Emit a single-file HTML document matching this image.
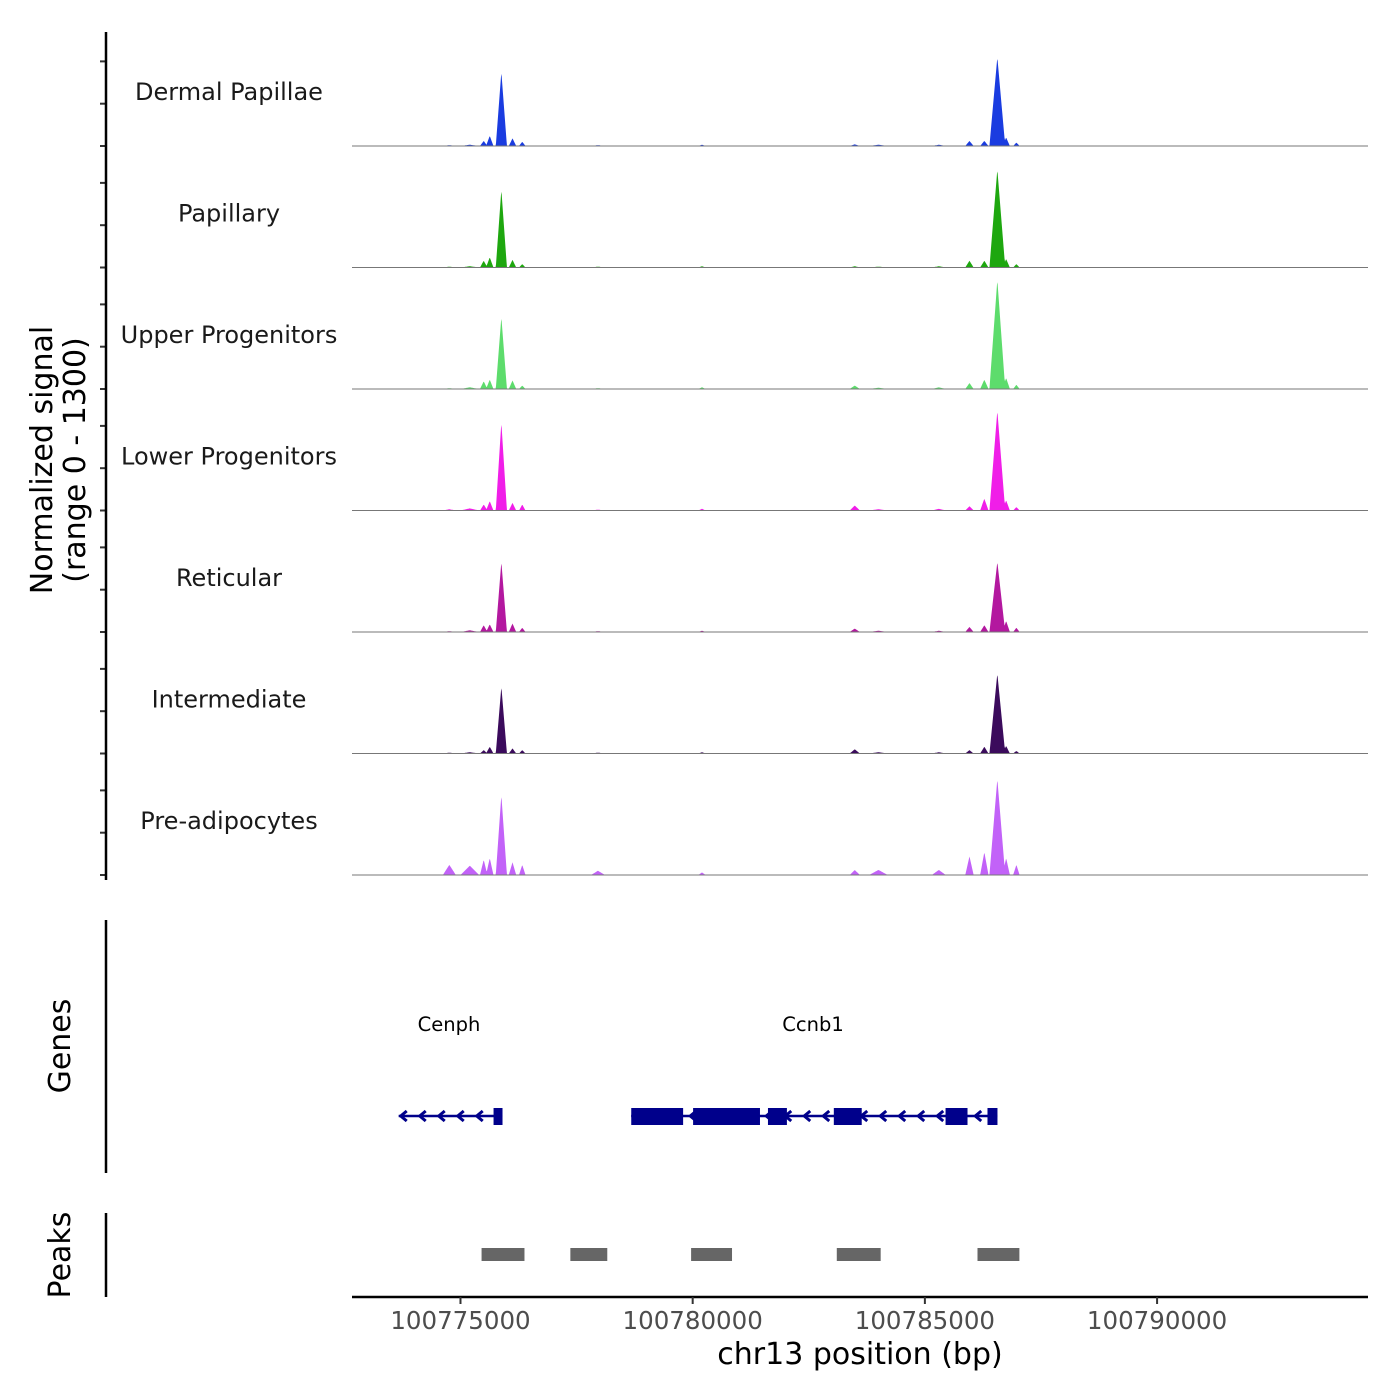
<!DOCTYPE html>
<html><head><meta charset="utf-8"><style>
html,body{margin:0;padding:0;background:#fff;}
svg{display:block;font-family:"DejaVu Sans","Liberation Sans",sans-serif;}
</style></head><body>
<svg id="chart" width="1400" height="1400" viewBox="0 0 1400 1400" xmlns="http://www.w3.org/2000/svg">
<g id="tracks"></g>
<g id="genes"></g>
<g id="peaks"></g>
<g id="axes"></g>
</svg>
<script>
const trackNames = ["Dermal Papillae","Papillary","Upper Progenitors","Lower Progenitors","Reticular","Intermediate","Pre-adipocytes"];
const trackColors = ["#1a3ce0","#1ea70f","#5ddc6c","#f01ee8","#b3189f","#3b0b5c","#c262f8"];
const bumpPositions = [100775880,100786560,100775500,100775630,100776120,100776330,100785960,100786280,100786750,100786970,100783490,100780200,100777960,100774760,100775200,100784000,100785300];
const bumpHalfWidths = [120,170,80,80,80,70,90,90,80,70,110,80,150,140,200,200,150];
const dpValues = [875,1050,60,120,90,50,60,60,100,40,20,15,10,10,15,15,15];
const papValues = [920,1160,80,120,90,40,80,80,100,40,15,15,10,10,15,10,15];
const upperValues = [850,1290,90,110,100,40,70,110,130,50,40,20,10,10,20,15,20];
const lowerValues = [1040,1180,70,110,90,70,50,140,120,40,60,20,10,15,25,15,20];
const reticValues = [830,830,80,90,100,50,60,80,130,50,40,15,10,10,20,15,15];
const interValues = [790,945,40,80,60,40,40,80,90,30,50,15,10,10,15,15,15];
const preValues = [945,1135,180,200,150,120,220,270,200,120,60,30,50,120,110,60,60];
const trackValues = [dpValues,papValues,upperValues,lowerValues,reticValues,interValues,preValues];
const xTicks = [100775000,100780000,100785000,100790000];
const cenphLine = [100773670,100775905];
const cenphExons = [[100775712,100775905]];
const ccnb1Line = [100778677,100786563];
const ccnb1Exons = [[100778677,100779794],[100780009,100781449],[100781621,100782029],[100783039,100783640],[100785445,100785918],[100786348,100786563]];
const peakStarts = [100775454,100777366,100779966,100783103,100786133];
const peakEnds = [100776378,100778161,100780847,100784048,100787035];
const yMax = 1300;

const NS="http://www.w3.org/2000/svg";
const X0=352,X1=1368,BP0=100772664,PXPERBP=0.04644;
const xs=bp=>X0+(bp-BP0)*PXPERBP;
const bpAt=x=>BP0+(x-X0)/PXPERBP;
function mk(tag,attrs,parent){const e=document.createElementNS(NS,tag);for(const k in attrs)e.setAttribute(k,attrs[k]);parent.appendChild(e);return e;}
const T=document.getElementById('tracks'),A=document.getElementById('axes'),G=document.getElementById('genes'),P=document.getElementById('peaks');
const panelH=121.5, firstBase=146, hPx=110;

trackNames.forEach((name,i)=>{
  const base=firstBase+i*panelH;
  const ys=v=>base-v/yMax*hPx;
  const vals=trackValues[i];
  let pts=[[X0,base]];
  for(let x=X0;x<=1322;x+=0.5){
    const bp=bpAt(x);let v=0;
    for(let j=0;j<bumpPositions.length;j++){const d=Math.abs(bp-bumpPositions[j])/bumpHalfWidths[j];if(d<1)v=Math.max(v,vals[j]*(1-d));}
    pts.push([x,ys(v)]);
  }
  pts.push([1322,base]);
  const poly=mk('polygon',{points:pts.map(p=>p[0].toFixed(1)+','+p[1].toFixed(1)).join(' '),fill:trackColors[i]},T);
  
  
  const bl=mk('line',{x1:X0,x2:X1,y1:base,y2:base,stroke:'#777','stroke-width':1},T);
  
  
  const lab=mk('text',{x:229,y:base-46,'text-anchor':'middle','font-size':24,fill:'#1a1a1a'},T);
  lab.textContent=name;
  
  
  [0,500,1000].forEach(t=>{
    const tk=mk('line',{x1:100,x2:106,y1:ys(t),y2:ys(t),stroke:'#333','stroke-width':2},A);
    
    
  });
});
[[32,880],[920,1173],[1213,1297]].forEach(s=>{
  const l=mk('line',{x1:106,x2:106,y1:s[0],y2:s[1],stroke:'#000','stroke-width':2.5},A);
  
  
});
const yt=mk('text',{transform:'translate(52,460) rotate(-90)','text-anchor':'middle','font-size':30,fill:'#000'},A);


yt.innerHTML='<tspan x="0" dy="0">Normalized signal</tspan><tspan x="0" dy="33">(range 0 - 1300)</tspan>';
const gt=mk('text',{transform:'translate(70,1046) rotate(-90)','text-anchor':'middle','font-size':30,fill:'#000'},A);
gt.textContent='Genes';


const pt=mk('text',{transform:'translate(70,1255) rotate(-90)','text-anchor':'middle','font-size':30,fill:'#000'},A);
pt.textContent='Peaks';


const xa=mk('line',{x1:X0,x2:X1,y1:1297,y2:1297,stroke:'#000','stroke-width':2.5},A);


xTicks.forEach(t=>{
  const tk=mk('line',{x1:xs(t),x2:xs(t),y1:1297,y2:1304,stroke:'#333','stroke-width':2},A);
  
  
  const tl=mk('text',{x:xs(t),y:1329,'text-anchor':'middle','font-size':24.5,fill:'#4d4d4d'},A);
  tl.textContent=String(t);
  
  
});
const xt=mk('text',{x:860,y:1364,'text-anchor':'middle','font-size':30,fill:'#000'},A);
xt.textContent='chr13 position (bp)';


const GY=1116,GC='#00008b';
function drawGene(name,line,exons,labelX){
  const g=mk('g',{},G);
  
  
  mk('line',{x1:xs(line[0]),x2:xs(line[1]),y1:GY,y2:GY,stroke:GC,'stroke-width':2.5},g);
  for(let x=xs(line[0])+2;x<xs(line[1])-8;x+=19){
    mk('polyline',{points:`${x+6},${GY-5} ${x},${GY} ${x+6},${GY+5}`,fill:'none',stroke:GC,'stroke-width':3},g);
  }
  exons.forEach(e=>mk('rect',{x:xs(e[0]),y:GY-8,width:xs(e[1])-xs(e[0]),height:17,fill:GC},g));
  const t=mk('text',{x:labelX,y:1031,'text-anchor':'middle','font-size':19.5,fill:'#000'},g);
  t.textContent=name;
  
  
}
drawGene('Cenph',cenphLine,cenphExons,449);
drawGene('Ccnb1',ccnb1Line,ccnb1Exons,813);
peakStarts.forEach((s,i)=>{
  const r=mk('rect',{x:xs(s),y:1248,width:xs(peakEnds[i])-xs(s),height:13,fill:'#666'},P);
  
  
});
</script>
</body></html>
